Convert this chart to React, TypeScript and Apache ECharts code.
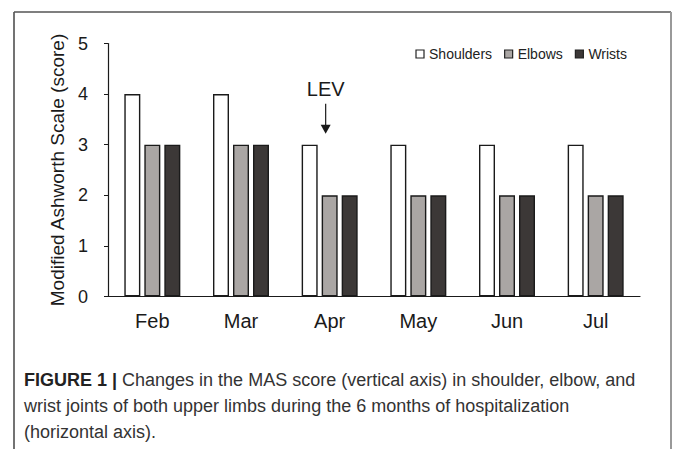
import React, { useEffect, useRef } from "react";
import * as echarts from "echarts";

const months = ["Feb", "Mar", "Apr", "May", "Jun", "Jul"];
const shoulders = [4, 4, 3, 3, 3, 3];
const elbows = [3, 3, 2, 2, 2, 2];
const wrists = [3, 3, 2, 2, 2, 2];
const seriesNames = ["Shoulders", "Elbows", "Wrists"];
const yAxisName = "Modified Ashworth Scale (score)";
const yMin = 0;
const yMax = 5;
const yInterval = 1;
const annotationMonth = "Apr";
const annotationLabel = "LEV";
const captionBold = "FIGURE 1 |";
const captionLines = [
  " Changes in the MAS score (vertical axis) in shoulder, elbow, and",
  "wrist joints of both upper limbs during the 6 months of hospitalization",
  "(horizontal axis).",
];

const SANS = "'Liberation Sans', Arial, sans-serif";

export default function App() {
  const ref = useRef<HTMLDivElement>(null);
  useEffect(() => {
    document.body.style.margin = "0";
    if (!ref.current) return;
    const chart = echarts.init(ref.current, undefined, { renderer: "svg" });
    const fills = ["#ffffff", "#aaa6a4", "#3c3837"];
    const data = [shoulders, elbows, wrists];
    chart.setOption({
      animation: false,
      backgroundColor: "#ffffff",
      grid: { left: 108, right: 33, top: 43.5, bottom: 152.5, containLabel: false },
      legend: {
        data: seriesNames,
        right: 41,
        top: 42,
        icon: "rect",
        itemWidth: 8,
        itemHeight: 8,
        itemGap: 12,
        textStyle: { fontFamily: SANS, fontSize: 14, color: "#222" },
        itemStyle: { borderColor: "#222", borderWidth: 1.2 },
      },
      xAxis: {
        type: "category",
        data: months,
        axisLine: { lineStyle: { color: "#1a1a1a", width: 1.2 } },
        axisTick: { show: false },
        axisLabel: { fontFamily: SANS, fontSize: 20, color: "#1a1a1a", margin: 14 },
      },
      yAxis: {
        type: "value",
        min: yMin,
        max: yMax,
        interval: yInterval,
        name: yAxisName,
        nameLocation: "middle",
        nameRotate: 90,
        nameGap: 37,
        nameTextStyle: { fontFamily: SANS, fontSize: 19, color: "#1a1a1a" },
        splitLine: { show: false },
        axisLine: { show: true, lineStyle: { color: "#1a1a1a", width: 1.2 } },
        axisTick: { show: true, inside: false, length: 4, lineStyle: { color: "#1a1a1a" } },
        axisLabel: { fontFamily: SANS, fontSize: 18, color: "#1a1a1a", margin: 20 },
      },
      series: seriesNames.map((name, i) => ({
        name,
        type: "bar",
        data: data[i],
        barWidth: 16,
        barGap: "25%",
        itemStyle: { color: fills[i], borderColor: "#1a1a1a", borderWidth: 1.4 },
      })),
    });

    const xi = months.indexOf(annotationMonth);
    const p = chart.convertToPixel({ seriesIndex: 0 }, [xi, shoulders[xi]]) as number[];
    const ax = p[0] - 4;
    const topY = p[1];
    const captionX = 24;
    chart.setOption({
      graphic: [
        { type: "line", shape: { x1: 14, y1: 12, x2: 14, y2: 449 }, style: { stroke: "#444", lineWidth: 1.5 } },
        { type: "line", shape: { x1: 14, y1: 12, x2: 671, y2: 12 }, style: { stroke: "#555", lineWidth: 1.5 } },
        { type: "line", shape: { x1: 671, y1: 12, x2: 671, y2: 449 }, style: { stroke: "#999", lineWidth: 2 } },
        {
          type: "text",
          x: ax,
          y: topY - 56,
          style: { text: annotationLabel, font: `20px ${SANS}`, fill: "#1a1a1a", align: "center", verticalAlign: "middle" },
        },
        { type: "line", shape: { x1: ax, y1: topY - 41, x2: ax, y2: topY - 18 }, style: { stroke: "#1a1a1a", lineWidth: 1.2 } },
        {
          type: "polygon",
          shape: { points: [[ax - 5, topY - 20], [ax + 5, topY - 20], [ax, topY - 11]] },
          style: { fill: "#1a1a1a" },
        },
        {
          type: "text",
          x: captionX,
          y: 380,
          style: {
            text: `{b|${captionBold}}{r|${captionLines[0]}}`,
            verticalAlign: "middle",
            rich: {
              b: { font: `bold 18px ${SANS}`, fill: "#222" },
              r: { font: `18px ${SANS}`, fill: "#333" },
            },
          },
        },
        {
          type: "text",
          x: captionX,
          y: 406,
          style: { text: captionLines[1], font: `18px ${SANS}`, fill: "#333", verticalAlign: "middle" },
        },
        {
          type: "text",
          x: captionX,
          y: 432,
          style: { text: captionLines[2], font: `18px ${SANS}`, fill: "#333", verticalAlign: "middle" },
        },
      ],
    });
    return () => chart.dispose();
  }, []);
  return <div ref={ref} style={{ width: 673, height: 449 }} />;
}
